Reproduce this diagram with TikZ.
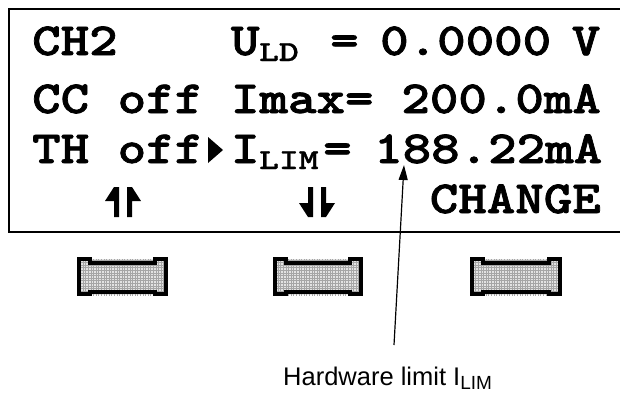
\documentclass[tikz,border=0pt]{standalone}
\usepackage{fontspec}
\setmainfont{Liberation Sans}
\newfontfamily\lcdfont{lmmonolt10-bold.otf}[FakeStretch=1.18, FakeBold=1.6]
\newfontfamily\lcdsubfont{lmmonolt10-bold.otf}[FakeStretch=1.3, FakeBold=1.0]
\usetikzlibrary{arrows.meta}
\tikzset{
  lcd/.style={anchor=base west, inner sep=0pt, font=\lcdfont\fontsize{46}{48}\selectfont},
  lcdsub/.style={anchor=base west, inner sep=0pt, font=\lcdsubfont\fontsize{29}{30}\selectfont},
  frameline/.style={line width=2pt, line cap=rect},
  harp/.style={fill=black, draw=none},
  keybtn/.style={line width=4pt, draw=black, line join=miter},
  keyfill/.style={fill=gray!22},
  keygrid/.style={draw=gray!70, line width=0.7pt},
  pointer/.style={line width=1.2pt, -{Triangle[length=15pt,width=9pt]}},
  label/.style={anchor=base west, inner sep=0pt, font=\fontsize{25.5}{27}\selectfont}
}
\begin{document}
\begin{tikzpicture}[x=1pt,y=-1pt]
\useasboundingbox (0,0) rectangle (620,392);
\fill[white] (0,0) rectangle (620,392);
% display frame (right side runs off the picture)
\draw[frameline] (621,9) -- (9,9) -- (9,232) -- (621,232);
% row 1
\node[lcd] (ch) at (32,55) {CH2};
\node[lcd] (u) at (230.8,55) {U};
\node[lcdsub] (ld) at (259,61) {LD};
\node[lcd] (eq1) at (330,55) {=};
\node[lcd] (uval) at (380,55) {0.0000};
\node[lcd] (volt) at (571.6,55) {V};
% row 2
\node[lcd] (cc) at (32,113) {CC off};
\node[lcd] (imax) at (230.8,113) {Imax=};
\node[lcd] (ival) at (401.2,113) {200.0mA};
% row 3
\node[lcd] (th) at (32,163) {TH off};
\fill (208,137) -- (223,150) -- (208,163) -- cycle;
\node[lcd] (i) at (230.8,163) {I};
\node[lcdsub] (lim) at (259,169) {LIM};
\node[lcd] (eq3) at (323,163) {=};
\node[lcd] (lval) at (374,163) {188.22mA};
% row 4: soft key legends
\fill[harp] (114,187) -- (119,187) -- (119,217) -- (114,217) -- (114,201) -- (105,201) -- cycle;
\fill[harp] (132,187) -- (127,187) -- (127,217) -- (132,217) -- (132,201) -- (141,201) -- cycle;
\fill[harp] (308,217) -- (313,217) -- (313,187) -- (308,187) -- (308,203) -- (299,203) -- cycle;
\fill[harp] (326,217) -- (321,217) -- (321,187) -- (326,187) -- (326,203) -- (335,203) -- cycle;
\node[lcd] (change) at (429.6,213) {CHANGE};
% keys
\foreach \L/\R/\n in {77/168/k1, 273/363/k2, 470/562/k3}{
  \fill[keyfill] (\L,259) rectangle (\R,295);
  \begin{scope}
    \clip (\L,259) rectangle (\R,295);
    \draw[keygrid] (\L,257) grid[step=2.6pt] (\R,296);
  \end{scope}
  \draw[keybtn] (\L+2,259) -- (\L+13,259) -- (\L+13,262.5) -- (\R-13,262.5) -- (\R-13,259) -- (\R-2,259)
     -- (\R-2,294) -- (\R-13,294) -- (\R-13,291.5) -- (\L+13,291.5) -- (\L+13,294) -- (\L+2,294) -- cycle;
  \coordinate (\n) at ({(\L+\R)/2},276);
}
% annotation
\node[label] (hw) at (283,385) {Hardware limit I\textsubscript{\fontsize{19}{20}\selectfont LIM}};
\coordinate (tail) at (394,345);
\coordinate (tip) at (404,165);
\draw[pointer] (tail) -- (tip);
\end{tikzpicture}
\end{document}
